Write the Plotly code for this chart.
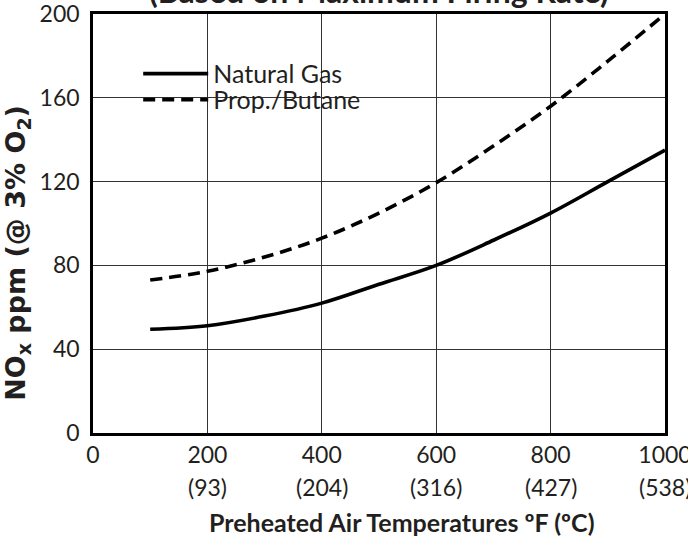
import plotly.graph_objects as go

# ---- data ----
temp_f = [100, 200, 300, 400, 500, 600, 700, 800, 900, 1000]
natural_gas = [49.5, 51.2, 55.8, 62, 71, 80, 92, 105, 120, 135]
prop_butane = [73, 77.2, 84, 93, 105, 119.5, 137, 156, 177.5, 200]

x_ticks = [0, 200, 400, 600, 800, 1000]
x_tick_text = ["0", "200", "400", "600", "800", "1000"]
c_ticks = [200, 400, 600, 800, 1000]
c_tick_text = ["(93)", "(204)", "(316)", "(427)", "(538)"]
y_ticks = [0, 40, 80, 120, 160, 200]

title_text = "(Based on Maximum Firing Rate)"
x_title = "Preheated Air Temperatures ºF (ºC)"
y_title = "NO<sub>x</sub> ppm (@ 3% O<sub>2</sub>)"

FONT = "Lato"
INK = "#231f20"

fig = go.Figure()
fig.add_trace(go.Scatter(
    x=temp_f, y=natural_gas, mode="lines", name="Natural Gas",
    line=dict(color="black", width=3.6, shape="spline"), legend="legend",
))
fig.add_trace(go.Scatter(
    x=temp_f, y=prop_butane, mode="lines", name="Prop./Butane",
    line=dict(color="black", width=3.6, shape="spline", dash="12px,7px"),
    legend="legend2",
))

annotations = []
for xv, lab in zip(c_ticks, c_tick_text):
    annotations.append(dict(
        x=xv, y=0, xref="x", yref="paper", text=lab, showarrow=False,
        yanchor="middle", xanchor="center", yshift=-54,
        font=dict(family=FONT, size=23, color=INK),
    ))
annotations.append(dict(
    x=0.5, y=1, xref="paper", yref="paper",
    text="<b>" + title_text + "</b>", showarrow=False,
    yanchor="bottom", xanchor="center", yshift=2,
    font=dict(family=FONT, size=32, color=INK),
))
annotations.append(dict(
    x=0.54, y=0, xref="paper", yref="paper",
    text="<b>" + x_title + "</b>", showarrow=False,
    yanchor="middle", xanchor="center", yshift=-89,
    font=dict(family=FONT, size=25, color=INK),
))
annotations.append(dict(
    x=0, y=0.43, xref="paper", yref="paper",
    text="<b>" + y_title + "</b>", showarrow=False, textangle=-90,
    yanchor="middle", xanchor="center", xshift=-75,
    font=dict(family="DejaVu Sans", size=27, color=INK),
))

legend_common = dict(
    xanchor="left", yanchor="middle", bgcolor="rgba(0,0,0,0)", borderwidth=0,
    font=dict(family=FONT, size=25, color=INK), itemwidth=65,
)

fig.update_layout(
    width=688, height=539,
    margin=dict(l=93, r=23, t=14, b=106),
    paper_bgcolor="white", plot_bgcolor="white",
    font=dict(family=FONT, size=23, color=INK),
    showlegend=True,
    legend=dict(x=0.079, y=0.857, **legend_common),
    legend2=dict(x=0.079, y=0.795, **legend_common),
    annotations=annotations,
    shapes=[dict(
        type="rect", xref="paper", yref="paper",
        x0=0.068, x1=0.458, y0=0.730, y1=0.919,
        fillcolor="white", line=dict(width=0), layer="between",
    )],
)
fig.update_xaxes(
    range=[0, 1000], tickvals=x_ticks, ticktext=x_tick_text,
    showgrid=True, gridcolor="#333333", gridwidth=1.3,
    showline=True, linecolor="black", linewidth=2.5, mirror=True,
    ticks="", zeroline=False, automargin=False, ticklabeloverflow="allow",
    tickfont=dict(family=FONT, size=23, color=INK),
)
fig.update_yaxes(
    range=[0, 200], tickvals=y_ticks,
    showgrid=True, gridcolor="#333333", gridwidth=1.3,
    showline=True, linecolor="black", linewidth=2.5, mirror=True,
    ticks="outside", ticklen=6, tickcolor="rgba(0,0,0,0)",
    zeroline=False, automargin=False, ticklabeloverflow="allow",
    tickfont=dict(family=FONT, size=23, color=INK),
)

fig.write_html("out.html", config={"displayModeBar": False},
               post_script="document.body.style.margin='0';")
